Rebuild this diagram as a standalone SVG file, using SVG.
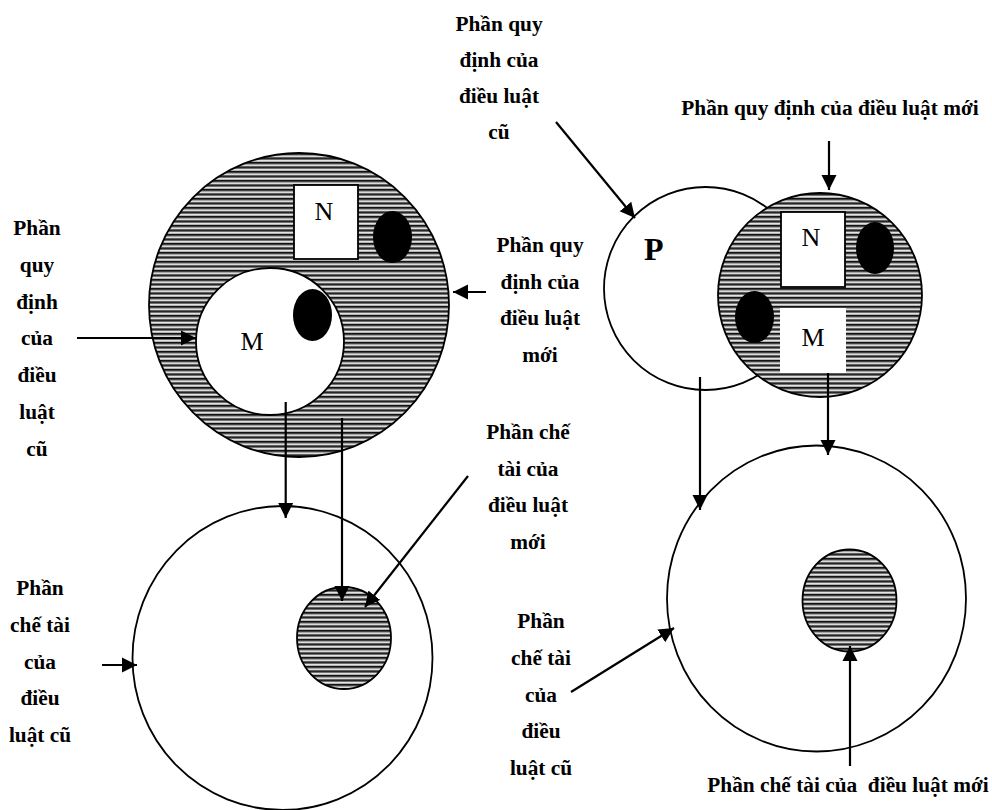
<svg xmlns="http://www.w3.org/2000/svg" width="992" height="810" viewBox="0 0 992 810">
  <defs>
    <!-- horizontal line shading used for the filled regions -->
    <pattern id="hatch" patternUnits="userSpaceOnUse" width="8" height="4.5">
      <rect width="8" height="4.5" fill="#ffffff"/>
      <rect y="0" width="8" height="1.7" fill="#111111"/>
      <rect y="1.7" width="8" height="0.9" fill="#777777"/>
      <rect y="3.5" width="8" height="1.0" fill="#b0b0b0"/>
    </pattern>
    <marker id="arrow" markerUnits="userSpaceOnUse" markerWidth="16" markerHeight="16" refX="15" refY="8" orient="auto">
      <path d="M0,0.5 L15,8 L0,15.5 Z" fill="#000"/>
    </marker>
  </defs>
  <style>
    .shape { stroke: #000; stroke-width: 1.8; }
    .hatched { fill: url(#hatch); }
    .white { fill: #fff; }
    .blob { fill: #000; stroke: none; }
    .conn line { stroke: #000; stroke-width: 2.2; marker-end: url(#arrow); }
    .lbl { font-family: "Liberation Serif", "Times New Roman", "DejaVu Serif", serif; font-weight: bold; font-size: 21.33px; fill: #000; text-anchor: middle; }
    .letter { font-family: "Liberation Serif", "Times New Roman", "DejaVu Serif", serif; font-size: 26px; fill: #000; text-anchor: middle; }
    .big { font-weight: bold; font-size: 32px; text-anchor: start; }
  </style>

  <rect width="992" height="810" fill="#fff"/>

  <!-- left: old law provision area -->
  <g id="old-provision">
    <ellipse class="shape hatched" cx="299" cy="305" rx="150" ry="152"/>
    <rect class="shape white" x="294" y="185" width="64" height="74"/>
    <text class="letter" x="324" y="220">N</text>
    <ellipse class="blob" cx="392.5" cy="237" rx="19.5" ry="26"/>
    <ellipse class="shape white" cx="270" cy="341.5" rx="74" ry="73.5"/>
    <ellipse class="blob" cx="312.5" cy="315" rx="19.5" ry="26"/>
    <text class="letter" x="252" y="350">M</text>
  </g>

  <!-- left: sanction areas -->
  <g id="old-sanction">
    <ellipse class="shape white" cx="282.5" cy="658" rx="150" ry="152"/>
  </g>
  <g id="new-sanction-left">
    <ellipse class="shape hatched" cx="344" cy="638" rx="47" ry="51"/>
  </g>

  <!-- right: provision areas -->
  <g id="p-circle">
    <circle class="shape white" cx="705.5" cy="288.5" r="101.5"/>
    <text class="letter big" x="644" y="260">P</text>
  </g>
  <g id="new-provision">
    <ellipse class="shape hatched" cx="820" cy="295" rx="102" ry="102"/>
    <rect class="shape white" x="781" y="212" width="64" height="75"/>
    <text class="letter" x="811" y="246">N</text>
    <ellipse class="blob" cx="875" cy="248" rx="19" ry="26"/>
    <ellipse class="blob" cx="754.5" cy="317" rx="19.5" ry="26"/>
    <rect class="white" x="780" y="308" width="66" height="65"/>
    <text class="letter" x="813" y="346">M</text>
  </g>

  <!-- right: sanction areas -->
  <g id="sanction-right">
    <ellipse class="shape white" cx="816.5" cy="598.5" rx="149.5" ry="153"/>
  </g>
  <g id="new-sanction-right">
    <ellipse class="shape hatched" cx="849.5" cy="600.5" rx="47" ry="51"/>
  </g>

  <!-- labels -->
  <g id="label-old-provision-left">
    <text class="lbl" x="37" y="235">Phần</text>
    <text class="lbl" x="37" y="271.8">quy</text>
    <text class="lbl" x="37" y="308.6">định</text>
    <text class="lbl" x="37" y="345.4">của</text>
    <text class="lbl" x="37" y="382.2">điều</text>
    <text class="lbl" x="37" y="419">luật</text>
    <text class="lbl" x="37" y="455.8">cũ</text>
  </g>
  <g id="label-old-provision-top">
    <text class="lbl" x="499" y="31">Phần quy</text>
    <text class="lbl" x="499" y="67">định của</text>
    <text class="lbl" x="499" y="103">điều luật</text>
    <text class="lbl" x="499" y="139">cũ</text>
  </g>
  <g id="label-new-provision-mid">
    <text class="lbl" x="540" y="252">Phần quy</text>
    <text class="lbl" x="540" y="288.5">định của</text>
    <text class="lbl" x="540" y="325">điều luật</text>
    <text class="lbl" x="540" y="361.5">mới</text>
  </g>
  <g id="label-new-provision-top">
    <text class="lbl" x="830" y="115">Phần quy định của điều luật mới</text>
  </g>
  <g id="label-new-sanction-mid">
    <text class="lbl" x="528" y="439">Phần chế</text>
    <text class="lbl" x="528" y="475.5">tài của</text>
    <text class="lbl" x="528" y="512">điều luật</text>
    <text class="lbl" x="528" y="548.5">mới</text>
  </g>
  <g id="label-old-sanction-left">
    <text class="lbl" x="40" y="595">Phần</text>
    <text class="lbl" x="40" y="631.8">chế tài</text>
    <text class="lbl" x="40" y="668.6">của</text>
    <text class="lbl" x="40" y="705.4">điều</text>
    <text class="lbl" x="40" y="742.2">luật cũ</text>
  </g>
  <g id="label-old-sanction-mid">
    <text class="lbl" x="541" y="628">Phần</text>
    <text class="lbl" x="541" y="665">chế tài</text>
    <text class="lbl" x="541" y="701.7">của</text>
    <text class="lbl" x="541" y="738">điều</text>
    <text class="lbl" x="541" y="775">luật cũ</text>
  </g>
  <g id="label-new-sanction-bottom">
    <text class="lbl" x="848" y="792" xml:space="preserve">Phần chế tài của  điều luật mới</text>
  </g>

  <!-- connectors -->
  <g id="connectors" class="conn">
    <line x1="77" y1="338" x2="196" y2="338"/>
    <line x1="486" y1="292" x2="453" y2="292"/>
    <line x1="285.7" y1="402" x2="285.7" y2="518"/>
    <line x1="342" y1="418" x2="342" y2="601"/>
    <line x1="468" y1="476" x2="365" y2="607"/>
    <line x1="102" y1="665" x2="137" y2="665"/>
    <line x1="556" y1="122" x2="635" y2="218"/>
    <line x1="829" y1="141" x2="829" y2="190"/>
    <line x1="700" y1="377" x2="700" y2="510"/>
    <line x1="828" y1="373" x2="828" y2="455"/>
    <line x1="571" y1="692" x2="674" y2="628"/>
    <line x1="850" y1="766" x2="850" y2="646"/>
  </g>
</svg>
